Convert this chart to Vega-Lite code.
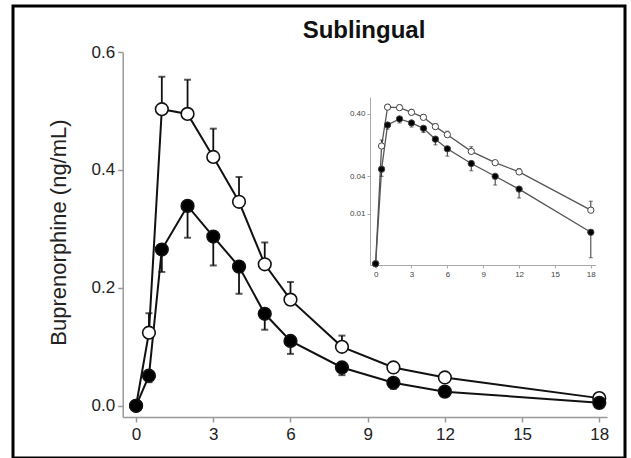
{
  "$schema": "https://vega.github.io/schema/vega-lite/v6.json",
  "width": 612,
  "height": 452,
  "autosize": "none",
  "padding": {"left": 13, "top": 6, "right": 6, "bottom": 0},
  "background": "white",
  "config": {
    "font": "Liberation Sans",
    "view": {"stroke": "black", "strokeWidth": 3}
  },
  "title": {
    "text": "Sublingual",
    "fontSize": 24,
    "fontWeight": "bold",
    "color": "#111",
    "anchor": "middle",
    "dx": 45,
    "dy": 23,
    "offset": -26,
    "baseline": "middle"
  },
  "datasets": {
    "main": [
      {"t": 0, "g": "open", "c": 0, "e": null},
      {"t": 0.5, "g": "open", "c": 0.124, "e": 0.157},
      {"t": 1, "g": "open", "c": 0.503, "e": 0.558},
      {"t": 2, "g": "open", "c": 0.495, "e": 0.553},
      {"t": 3, "g": "open", "c": 0.422, "e": 0.47},
      {"t": 4, "g": "open", "c": 0.346, "e": 0.388},
      {"t": 5, "g": "open", "c": 0.24, "e": 0.277},
      {"t": 6, "g": "open", "c": 0.18, "e": 0.21},
      {"t": 8, "g": "open", "c": 0.1, "e": 0.119},
      {"t": 10, "g": "open", "c": 0.065, "e": 0.071},
      {"t": 12, "g": "open", "c": 0.048, "e": 0.053},
      {"t": 18, "g": "open", "c": 0.013, "e": 0.016},
      {"t": 0, "g": "filled", "c": 0, "e": null},
      {"t": 0.5, "g": "filled", "c": 0.051, "e": 0.04},
      {"t": 1, "g": "filled", "c": 0.265, "e": 0.227},
      {"t": 2, "g": "filled", "c": 0.339, "e": 0.285},
      {"t": 3, "g": "filled", "c": 0.287, "e": 0.238},
      {"t": 4, "g": "filled", "c": 0.236, "e": 0.19},
      {"t": 5, "g": "filled", "c": 0.156, "e": 0.129},
      {"t": 6, "g": "filled", "c": 0.11, "e": 0.088},
      {"t": 8, "g": "filled", "c": 0.065, "e": 0.052},
      {"t": 10, "g": "filled", "c": 0.039, "e": 0.029},
      {"t": 12, "g": "filled", "c": 0.024, "e": 0.018},
      {"t": 18, "g": "filled", "c": 0.005, "e": 0.002}
    ],
    "inset": [
      {"t": 0, "g": "open", "c": 0.0016, "e": null},
      {"t": 0.5, "g": "open", "c": 0.122, "e": 0.152},
      {"t": 1, "g": "open", "c": 0.51, "e": 0.558},
      {"t": 2, "g": "open", "c": 0.5, "e": 0.553},
      {"t": 3, "g": "open", "c": 0.42, "e": 0.47},
      {"t": 4, "g": "open", "c": 0.35, "e": 0.388},
      {"t": 5, "g": "open", "c": 0.249, "e": 0.277},
      {"t": 6, "g": "open", "c": 0.185, "e": 0.21},
      {"t": 8, "g": "open", "c": 0.1, "e": 0.119},
      {"t": 10, "g": "open", "c": 0.066, "e": 0.071},
      {"t": 12, "g": "open", "c": 0.047, "e": 0.053},
      {"t": 18, "g": "open", "c": 0.0115, "e": 0.016},
      {"t": 0, "g": "filled", "c": 0.0016, "e": null},
      {"t": 0.5, "g": "filled", "c": 0.052, "e": 0.04},
      {"t": 1, "g": "filled", "c": 0.264, "e": 0.227},
      {"t": 2, "g": "filled", "c": 0.33, "e": 0.285},
      {"t": 3, "g": "filled", "c": 0.285, "e": 0.245},
      {"t": 4, "g": "filled", "c": 0.234, "e": 0.2},
      {"t": 5, "g": "filled", "c": 0.157, "e": 0.127},
      {"t": 6, "g": "filled", "c": 0.11, "e": 0.084},
      {"t": 8, "g": "filled", "c": 0.064, "e": 0.049},
      {"t": 10, "g": "filled", "c": 0.04, "e": 0.029},
      {"t": 12, "g": "filled", "c": 0.025, "e": 0.018},
      {"t": 18, "g": "filled", "c": 0.0051, "e": 0.002}
    ]
  },
  "layer": [
    {
      "data": {"name": "main"},
      "encoding": {
        "x": {
          "field": "t",
          "type": "quantitative",
          "scale": {"domain": [-0.52, 18.3], "range": [109.7, 594], "nice": false, "zero": false},
          "axis": {
            "orient": "bottom",
            "offset": -41,
            "values": [0, 3, 6, 9, 12, 15, 18],
            "title": null,
            "grid": false,
            "labelFontSize": 17,
            "labelColor": "#222",
            "labelPadding": 4,
            "domainColor": "#999",
            "domainWidth": 1.5,
            "tickColor": "#999",
            "tickWidth": 1.5,
            "tickSize": 5
          }
        },
        "y": {
          "field": "c",
          "type": "quantitative",
          "scale": {"domain": [-0.019, 0.6], "range": [411, 46], "nice": false, "zero": false},
          "axis": {
            "orient": "left",
            "offset": -109.7,
            "values": [0, 0.2, 0.4, 0.6],
            "format": ".1f",
            "title": "Buprenorphine (ng/mL)",
            "titleFontSize": 22,
            "titleFontWeight": "normal",
            "titleColor": "#222",
            "titleAngle": -90,
            "titleAlign": "center",
            "titleBaseline": "middle",
            "titleX": -64,
            "titleY": 226,
            "grid": false,
            "labelFontSize": 17,
            "labelColor": "#222",
            "labelPadding": 3,
            "domainColor": "#999",
            "domainWidth": 1.5,
            "tickColor": "#999",
            "tickWidth": 1.5,
            "tickSize": 5
          }
        }
      },
      "layer": [
        {
          "mark": {"type": "line", "color": "#111", "strokeWidth": 2},
          "encoding": {"detail": {"field": "g"}}
        },
        {
          "transform": [{"filter": "isValid(datum.e)"}],
          "mark": {"type": "rule", "color": "#111", "strokeWidth": 1.8},
          "encoding": {"y2": {"field": "e"}}
        },
        {
          "transform": [{"filter": "isValid(datum.e)"}],
          "mark": {"type": "tick", "orient": "horizontal", "color": "#111", "size": 7, "thickness": 2},
          "encoding": {"y": {"field": "e", "type": "quantitative"}}
        },
        {
          "mark": {"type": "point", "shape": "circle", "filled": true, "size": 160, "stroke": "#111", "strokeWidth": 1.6, "opacity": 1},
          "encoding": {
            "fill": {
              "field": "g",
              "type": "nominal",
              "scale": {"domain": ["open", "filled"], "range": ["white", "black"]},
              "legend": null
            }
          }
        }
      ]
    },
    {
      "data": {"name": "inset"},
      "encoding": {
        "x": {
          "field": "t",
          "type": "quantitative",
          "scale": {"domain": [-0.47, 18.4], "range": [357, 582.6], "nice": false, "zero": false},
          "axis": {
            "orient": "bottom",
            "offset": -193,
            "values": [0, 3, 6, 9, 12, 15, 18],
            "title": null,
            "grid": false,
            "labelFontSize": 8,
            "labelColor": "#444",
            "labelPadding": 2,
            "domainColor": "#aaa",
            "tickColor": "#aaa",
            "tickSize": 3
          }
        },
        "y": {
          "field": "c",
          "type": "quantitative",
          "scale": {"type": "log", "domain": [0.00153, 0.74], "range": [259, 91], "nice": false},
          "axis": {
            "orient": "left",
            "offset": -357,
            "values": [0.01, 0.04, 0.4],
            "format": ".2f",
            "title": null,
            "grid": false,
            "labelFontSize": 8,
            "labelColor": "#444",
            "labelPadding": 2,
            "domainColor": "#aaa",
            "tickColor": "#aaa",
            "tickSize": 3
          }
        }
      },
      "layer": [
        {
          "mark": {"type": "line", "color": "#555", "strokeWidth": 1.3},
          "encoding": {"detail": {"field": "g"}}
        },
        {
          "transform": [{"filter": "isValid(datum.e)"}],
          "mark": {"type": "rule", "color": "#333", "strokeWidth": 1},
          "encoding": {"y2": {"field": "e"}}
        },
        {
          "transform": [{"filter": "isValid(datum.e)"}],
          "mark": {"type": "tick", "orient": "horizontal", "color": "#333", "size": 4, "thickness": 1},
          "encoding": {"y": {"field": "e", "type": "quantitative"}}
        },
        {
          "mark": {"type": "point", "shape": "circle", "filled": true, "size": 40, "stroke": "#444", "strokeWidth": 1, "opacity": 1},
          "encoding": {
            "fill": {
              "field": "g",
              "type": "nominal",
              "scale": {"domain": ["open", "filled"], "range": ["white", "black"]},
              "legend": null
            }
          }
        }
      ]
    }
  ],
  "resolve": {
    "scale": {"x": "independent", "y": "independent", "fill": "independent"},
    "axis": {"x": "independent", "y": "independent"}
  }
}
